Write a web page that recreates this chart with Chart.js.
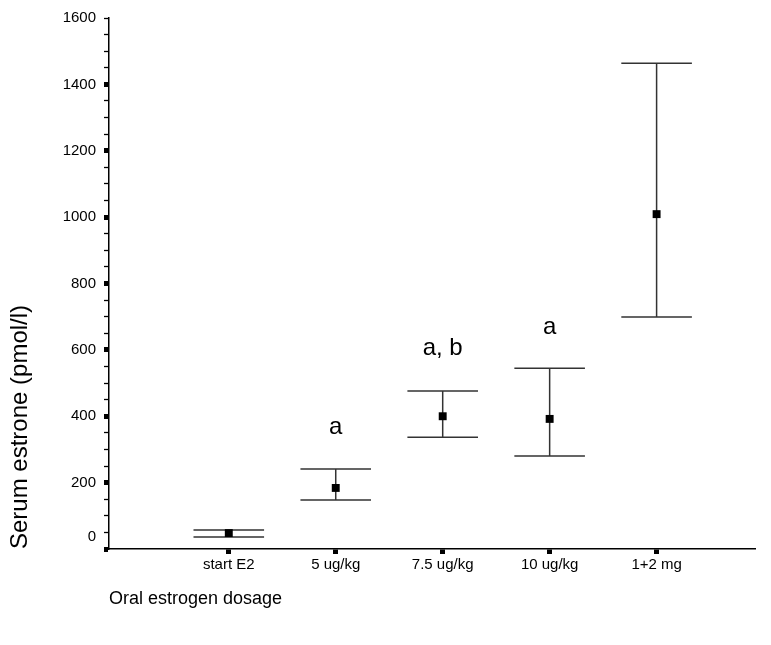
<!DOCTYPE html>
<html>
<head>
<meta charset="utf-8">
<script src="https://cdn.jsdelivr.net/npm/chart.js@4.4.0/dist/chart.umd.min.js"></script>
<style>
  html, body { margin: 0; padding: 0; background: #fff; }
  #wrap { width: 771px; height: 645px; }
</style>
</head>
<body>
<div id="wrap"><canvas id="chart" width="771" height="645"></canvas></div>
<script>
// -----------------------------
// Data
// -----------------------------
const categories = ['start E2', '5 ug/kg', '7.5 ug/kg', '10 ug/kg', '1+2 mg'];
const means = [48, 184, 400, 392, 1009];
const upper = [57, 241, 476, 545, 1464];
const lower = [36, 148, 337, 280, 699];
const letters = ['', 'a', 'a, b', 'a', ''];
const letterLevels = [0, 365, 605, 669, 0];
const yMax = 1600;
const yLabelStep = 200;
const yMinorStep = 50;

const FONT = "'Liberation Sans', Arial, sans-serif";
const TICK_SIZE = 15;

// -----------------------------
// Error bars + significance letters
// -----------------------------
const errorBars = {
  id: 'errorBars',
  beforeDatasetsDraw(chart) {
    const { ctx, scales: { x, y } } = chart;
    ctx.save();
    ctx.strokeStyle = '#333';
    ctx.lineWidth = 1.5;
    means.forEach((m, i) => {
      const cx = x.getPixelForValue(i + 1);
      const half = x.getPixelForValue(i + 1.33) - cx;
      const top = y.getPixelForValue(upper[i]);
      const bot = y.getPixelForValue(lower[i]);
      ctx.beginPath();
      ctx.moveTo(cx, top); ctx.lineTo(cx, bot);
      ctx.moveTo(cx - half, top); ctx.lineTo(cx + half, top);
      ctx.moveTo(cx - half, bot); ctx.lineTo(cx + half, bot);
      ctx.stroke();
    });
    ctx.restore();
  },
  afterDraw(chart) {
    const { ctx, scales: { x, y } } = chart;
    ctx.save();
    ctx.fillStyle = '#000';
    ctx.textAlign = 'center';
    ctx.textBaseline = 'middle';
    ctx.font = '24px ' + FONT;
    letters.forEach((t, i) => {
      if (!t) return;
      ctx.fillText(t, x.getPixelForValue(i + 1), y.getPixelForValue(letterLevels[i]));
    });
    // the zero label sits a little above the axis in the original
    ctx.font = TICK_SIZE + 'px ' + FONT;
    ctx.textAlign = 'right';
    ctx.fillText('0', y.left + y.width - 13, y.getPixelForValue(0) - 12);
    ctx.restore();
  }
};

// -----------------------------
// Chart
// -----------------------------
const ctx = document.getElementById('chart').getContext('2d');
new Chart(ctx, {
  type: 'scatter',
  data: {
    datasets: [{
      data: means.map((m, i) => ({ x: i + 1, y: m })),
      pointStyle: 'rect',
      pointRadius: 5.6,
      pointHoverRadius: 5.6,
      backgroundColor: '#000',
      borderColor: '#000',
      borderWidth: 0
    }]
  },
  options: {
    responsive: false,
    animation: false,
    events: [],
    layout: { padding: { top: 18, right: 16, left: 0, bottom: 0 } },
    plugins: { legend: { display: false }, tooltip: { enabled: false } },
    scales: {
      x: {
        type: 'linear',
        min: -0.12,
        max: 5.92,
        afterBuildTicks: s => { s.ticks = categories.map((c, i) => ({ value: i + 1 })); },
        afterFit: s => { s.height = 96; },
        border: { display: true, color: '#000', width: 1.5 },
        grid: { drawOnChartArea: false, drawTicks: true, tickLength: 5, tickWidth: 5, tickColor: '#000' },
        ticks: {
          autoSkip: false,
          maxRotation: 0,
          padding: 2,
          color: '#000',
          font: { family: FONT, size: TICK_SIZE },
          callback: v => categories[v - 1] ?? ''
        },
        title: {
          display: true,
          text: 'Oral estrogen dosage',
          align: 'start',
          color: '#000',
          font: { family: FONT, size: 18 },
          padding: { top: 0, bottom: 35 }
        }
      },
      y: {
        min: 0,
        max: yMax,
        afterFit: s => { s.width = 109; },
        border: { display: true, color: '#000', width: 1.5 },
        grid: {
          drawOnChartArea: false,
          drawTicks: true,
          tickLength: 5,
          tickColor: '#000',
          tickWidth: c => (c.tick && c.tick.value % yLabelStep === 0 && c.tick.value < yMax) ? 5 : 1.3
        },
        ticks: {
          stepSize: yMinorStep,
          autoSkip: false,
          padding: 8,
          color: '#000',
          font: { family: FONT, size: TICK_SIZE },
          callback: v => (v % yLabelStep === 0 && v !== 0) ? String(v) : ''
        },
        title: {
          display: true,
          text: 'Serum estrone (pmol/l)',
          align: 'start',
          color: '#000',
          font: { family: FONT, size: 24 },
          padding: { top: 6, bottom: 0 }
        }
      }
    }
  },
  plugins: [errorBars]
});
</script>
</body>
</html>
